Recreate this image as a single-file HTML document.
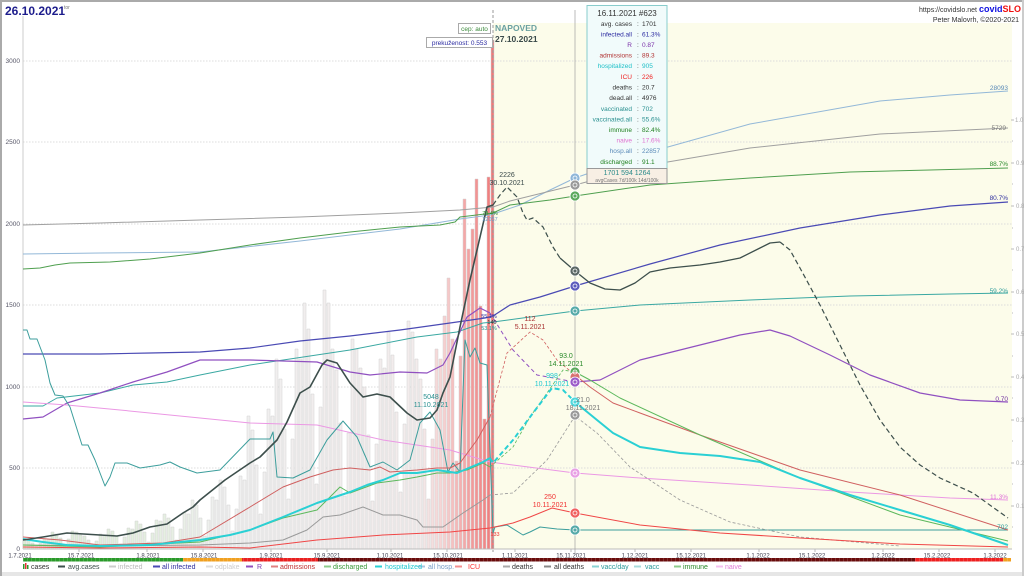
<!DOCTYPE html>
<html><head><meta charset="utf-8"><style>
html,body{margin:0;padding:0;background:#fff;}
svg{display:block;font-family:"Liberation Sans",sans-serif;}
</style></head><body>
<svg width="1024" height="576" viewBox="0 0 1024 576" xmlns="http://www.w3.org/2000/svg">
<defs>
<linearGradient id="bg" gradientUnits="userSpaceOnUse" x1="23" y1="0" x2="495" y2="0">
<stop offset="0" stop-color="#dcecd6"/><stop offset="0.3" stop-color="#e6efe2"/><stop offset="0.42" stop-color="#f0f0f0"/><stop offset="0.84" stop-color="#f3ecec"/><stop offset="0.89" stop-color="#f7d2d2"/><stop offset="0.94" stop-color="#f4a4a4"/><stop offset="1" stop-color="#f07474"/>
</linearGradient>
</defs>
<rect x="0" y="0" width="1024" height="576" fill="#fff"/>
<rect x="0" y="572" width="1024" height="4" fill="#e6e6e6"/>
<line x1="0" y1="1" x2="1024" y2="1" stroke="#aaa" stroke-width="2"/>
<line x1="1" y1="0" x2="1" y2="576" stroke="#aaa" stroke-width="2"/>
<line x1="1023" y1="0" x2="1023" y2="576" stroke="#ccc" stroke-width="2"/>
<!-- forecast bg -->
<rect x="493" y="23" width="519" height="526" fill="#fcfcea"/>
<!-- grid -->
<g stroke="#dcdcdc" stroke-width="1" stroke-dasharray="1.5 1.5">
<line x1="23" y1="61" x2="1012" y2="61"/><line x1="23" y1="142" x2="1012" y2="142"/><line x1="23" y1="224" x2="1012" y2="224"/><line x1="23" y1="305" x2="1012" y2="305"/><line x1="23" y1="387" x2="1012" y2="387"/><line x1="23" y1="468" x2="1012" y2="468"/>
</g>
<!-- left axis -->
<line x1="23" y1="16" x2="23" y2="549" stroke="#ccc"/>
<g font-size="6.5" fill="#556" text-anchor="end">
<text x="20" y="63">3000</text><text x="20" y="144">2500</text><text x="20" y="226">2000</text><text x="20" y="307">1500</text><text x="20" y="389">1000</text><text x="20" y="470">500</text><text x="20" y="551">0</text>
</g>
<!-- right axis -->
<g stroke="#bbb"><line x1="1011" y1="120" x2="1014" y2="120"/><line x1="1011" y1="163" x2="1014" y2="163"/><line x1="1011" y1="206" x2="1014" y2="206"/><line x1="1011" y1="249" x2="1014" y2="249"/><line x1="1011" y1="292" x2="1014" y2="292"/><line x1="1011" y1="334" x2="1014" y2="334"/><line x1="1011" y1="377" x2="1014" y2="377"/><line x1="1011" y1="420" x2="1014" y2="420"/><line x1="1011" y1="463" x2="1014" y2="463"/><line x1="1011" y1="506" x2="1014" y2="506"/>
<line x1="1012" y1="141" x2="1013" y2="141"/><line x1="1012" y1="184" x2="1013" y2="184"/><line x1="1012" y1="228" x2="1013" y2="228"/><line x1="1012" y1="270" x2="1013" y2="270"/><line x1="1012" y1="313" x2="1013" y2="313"/><line x1="1012" y1="356" x2="1013" y2="356"/><line x1="1012" y1="398" x2="1013" y2="398"/><line x1="1012" y1="441" x2="1013" y2="441"/><line x1="1012" y1="484" x2="1013" y2="484"/><line x1="1012" y1="527" x2="1013" y2="527"/></g>
<g font-size="6" fill="#aaa">
<text x="1015" y="122">1.0</text><text x="1016" y="165">0.9</text><text x="1016" y="208">0.8</text><text x="1016" y="251">0.7</text><text x="1016" y="294">0.6</text><text x="1016" y="336">0.5</text><text x="1016" y="379">0.4</text><text x="1016" y="422">0.3</text><text x="1016" y="465">0.2</text><text x="1016" y="508">0.1</text>
</g>
<!-- bars -->
<path fill="url(#bg)" stroke="#d2d2d2" stroke-width="0.5" d="M23 549v-9.5h3v9.5h1v-8.5h3v8.5h1v-6h3v6h1v-2.5h3v2.5h1v-5.5h3v5.5h1v-10h3v10h1v-9.5h3v9.5h1v-17h3v17h1v-15h3v15h1v-11h3v11h1v-4.5h3v4.5h1v-10h3v10h1v-18h3v18h1v-17h3v17h1v-14h3v14h1v-13h3v13h1v-9h3v9h1v-4h3v4h1v-8h3v8h1v-15h3v15h1v-14h3v14h1v-20h3v20h1v-18h3v18h1v-13h3v13h1v-5h3v5h1v-12h3v12h1v-21h3v21h1v-20h3v20h1v-28h3v28h1v-25h3v25h1v-17h3v17h1v-7h3v7h1v-16h3v16h1v-29h3v29h1v-28h3v28h1v-35h3v35h1v-31h3v31h1v-22h3v22h1v-9h3v9h1v-20h3v20h1v-37h3v37h1v-35h3v35h1v-49h3v49h1v-44h3v44h1v-31h3v31h1v-13h3v13h1v-29h3v29h1v-52h3v52h1v-49h3v49h1v-69h3v69h1v-62h3v62h1v-44h3v44h1v-18h3v18h1v-40h3v40h1v-73h3v73h1v-69h3v69h1v-133h3v133h1v-119h3v119h1v-84h3v84h1v-35h3v35h1v-77h3v77h1v-140h3v140h1v-133h3v133h1v-190h3v190h1v-170h3v170h1v-120h3v120h1v-50h3v50h1v-110h3v110h1v-200h3v200h1v-190h3v190h1v-246h3v246h1v-220h3v220h1v-155h3v155h1v-65h3v65h1v-142h3v142h1v-259h3v259h1v-246h3v246h1v-200h3v200h1v-179h3v179h1v-126h3v126h1v-53h3v53h1v-116h3v116h1v-210h3v210h1v-200h3v200h1v-181h3v181h1v-162h3v162h1v-114h3v114h1v-48h3v48h1v-105h3v105h1v-190h3v190h1v-181h3v181h1v-217h3v217h1v-194h3v194h1v-137h3v137h1v-57h3v57h1v-125h3v125h1v-228h3v228h1v-217h3v217h1v-190h3v190h1v-170h3v170h1v-120h3v120h1v-50h3v50h1v-110h3v110h1v-200h3v200h1v-190h3v190h1v-233h3v233h1v-271h3v271h1v-210h3v210h1v-88h3v88h1v-193h3v193h1v-350h3v350h1v-300h3v300h1v-320h3v320h1v-370h3v370h1v-243h3v243h1v-130h3v130h1v-372h3v372h1v-509h3v509h1z"/>
<!-- x axis -->
<line x1="23" y1="549" x2="1012" y2="549" stroke="#bbb"/>
<line x1="493" y1="10" x2="493" y2="552" stroke="#999" stroke-dasharray="3 2"/>
<line x1="575" y1="10" x2="575" y2="555" stroke="#aaa" stroke-width="0.8"/>
<!-- series -->
<g fill="none" stroke-linejoin="round">
<polyline stroke="#93b8d8" stroke-width="1" points="23,254 100,253 200,252 300,241 400,229 460,219 490,215 520,205 550,190 575,178 650,152 750,124 880,101 950,95 1008,91"/>
<polyline stroke="#a0a0a0" stroke-width="1" points="23,225 100,223 200,220 300,217 400,213 460,210 493,207 510,201 575,185 650,165 750,148 880,134 1008,128"/>
<polyline stroke="#4f9f4f" stroke-width="1" points="23,269 40,268 55,265 70,263 110,262 150,259 200,253 250,245 300,238 350,232 400,227 440,225 455,222 460,217 493,213 510,205 550,200 575,196 650,185 750,178 850,172 930,170 1008,168"/>
<polyline stroke="#4a4ab4" stroke-width="1.2" points="23,354 100,354 150,353 200,352 250,348 300,341 350,336 400,330 450,323 485,318 493,316 510,305 540,297 575,286 650,264 720,245 800,228 880,215 950,206 1008,202"/>
<polyline stroke="#3aa8a2" stroke-width="1" points="23,406 43,406 57,398 100,393 133,385 167,382 200,375 250,365 350,350 417,337 457,332 483,323 493,322 530,317 575,311 640,305 750,300 850,296 950,294 1008,293"/>
<polyline stroke="#9050c0" stroke-width="1.2" points="23,419 43,417 67,403 100,393 133,382 167,372 200,360 250,360 317,362 350,372 370,375 400,372 427,373 443,365 450,353 467,317 480,308 490,313"/>
<polyline stroke="#9050c0" stroke-width="1" stroke-dasharray="4 3" points="490,313 513,350 537,375 575,382"/>
<polyline stroke="#9050c0" stroke-width="1.2" points="575,382 600,380 640,360 700,345 740,335 770,330 790,336 830,355 870,375 920,393 960,400 1008,402"/>
<polyline stroke="#eb98e4" stroke-width="1" points="23,402 67,405 120,410 200,418 250,423 317,425 383,440 450,450 483,460 490,462 575,473 640,478 750,485 850,492 950,498 1008,500"/>
<polyline stroke="#3c9e9c" stroke-width="1" points="23,330 27,330 30,339 37,339 45,360 50,383 55,395 63,396 70,407 82,445 88,445 95,460 105,486 110,477 115,463 127,463 140,468 160,465 170,462 180,467 197,473 220,470 250,439 270,439 273,432 277,477 293,478 310,470 327,440 343,421 357,437 370,467 383,462 397,470 410,460 420,423 430,412 440,430 448,472 453,463 460,472 465,340 470,357 475,348 480,363 487,365 490,450 493,533 495,527 507,525 523,535 530,532 540,527 557,529 575,530 700,530 850,530 1008,530"/>
<polyline stroke="#9a9a9a" stroke-width="1" points="23,545 100,546 200,545 250,543 283,540 307,530 323,517 340,515 363,507 383,515 400,515 417,520 423,527 443,527 463,513 483,500 490,495"/>
<polyline stroke="#9a9a9a" stroke-width="0.8" stroke-dasharray="3 2" points="490,495 513,493 547,460 575,416 597,433 630,467 680,500 730,522 800,537 900,546"/>
<polyline stroke="#d06060" stroke-width="1" points="23,537 60,540 100,545 163,543 200,537 250,507 283,487 310,477 333,470 350,468 370,470 380,467 390,472 417,470 437,468 450,468 460,463 477,440 490,417"/>
<polyline stroke="#d06060" stroke-width="0.8" stroke-dasharray="3 2" points="490,417 507,353 530,332 543,340 557,360 575,375"/>
<polyline stroke="#d06060" stroke-width="1" points="575,375 590,387 613,403 640,413 700,435 800,470 900,495 1008,530"/>
<polyline stroke="#5cb85c" stroke-width="1" points="23,545 100,547 200,542 250,530 283,518 317,510 340,487 350,493 377,483 400,480 417,477 437,473 450,473 467,470 483,463 490,467"/>
<polyline stroke="#5cb85c" stroke-width="0.8" stroke-dasharray="3 2" points="490,467 513,447 530,417 547,393 563,370 575,372"/>
<polyline stroke="#5cb85c" stroke-width="1" points="575,372 590,380 620,398 700,435 800,478 900,515 1008,541"/>
<polyline stroke="#f04646" stroke-width="1" points="23,547 100,548 200,547 250,548 317,540 383,535 450,532 490,528 513,523 530,517 552,508 575,513 640,525 720,533 800,538 900,544 1008,547"/>
<polyline stroke="#2ad0d4" stroke-width="2" points="23,539 43,542 67,545 100,546 150,545 200,540 230,535 250,530 283,517 317,503 350,492 367,485 383,480 400,473 417,473 437,470 457,473 483,462 490,458"/>
<polyline stroke="#2ad0d4" stroke-width="2" stroke-dasharray="5 3" points="490,458 493,463 513,440 533,413 552,388 563,390 575,402"/>
<polyline stroke="#2ad0d4" stroke-width="2" points="575,402 597,420 613,433 640,447 680,453 720,456 760,462 800,478 850,495 900,510 950,525 1008,545"/>
<polyline stroke="#3d4f4c" stroke-width="1.6" points="23,540 43,537 67,533 100,535 117,536 133,533 150,527 167,524 183,513 193,507 200,500 225,480 250,463 260,457 270,447 277,440 287,422 300,393 310,387 322,365 327,360 337,363 350,383 363,397 377,394 390,397 407,413 417,420 430,418 437,410 443,393 450,377 460,327 470,280 477,250 487,207 493,205"/>
<polyline stroke="#3d4f4c" stroke-width="1.2" stroke-dasharray="5 3" points="493,205 500,195 507,187 517,197 523,213 527,220 533,218 543,227 553,247 560,258"/>
<polyline stroke="#3d4f4c" stroke-width="1.3" points="560,258 575,271 590,283 605,289 620,290 635,283 650,272 670,268 700,265 720,262 740,258 760,248 770,243 780,242"/>
<polyline stroke="#3d4f4c" stroke-width="1.2" stroke-dasharray="5 3" points="780,242 790,250 800,268 820,305 840,345 860,385 880,420 900,447 920,465 940,478 973,493 1008,518"/>
</g>
<!-- circles at 575 -->
<g stroke="#fff" stroke-width="0.8">
<circle cx="575" cy="178" r="5" fill="#8fb6d8"/><circle cx="575" cy="185" r="5" fill="#999"/><circle cx="575" cy="196" r="5" fill="#5aa85a"/><circle cx="575" cy="271" r="5" fill="#5a6664"/><circle cx="575" cy="286" r="5" fill="#5a5abc"/><circle cx="575" cy="311" r="5" fill="#55aaa8"/><circle cx="575" cy="372" r="5" fill="#5aa85a"/><circle cx="575" cy="377" r="5" fill="#d87070"/><circle cx="575" cy="382" r="5" fill="#9a5ac8"/><circle cx="575" cy="402" r="5" fill="#50d8dc"/><circle cx="575" cy="415" r="5" fill="#999"/><circle cx="575" cy="473" r="5" fill="#e8a0e4"/><circle cx="575" cy="513" r="5" fill="#f06060"/><circle cx="575" cy="530" r="5" fill="#55aaa8"/>
</g>
<g fill="none" stroke="#fff" stroke-width="0.8">
<circle cx="575" cy="178" r="2"/><circle cx="575" cy="185" r="2"/><circle cx="575" cy="196" r="2"/><circle cx="575" cy="271" r="2"/><circle cx="575" cy="286" r="2"/><circle cx="575" cy="311" r="2"/><circle cx="575" cy="372" r="2"/><circle cx="575" cy="382" r="2"/><circle cx="575" cy="402" r="2"/><circle cx="575" cy="415" r="2"/><circle cx="575" cy="473" r="2"/><circle cx="575" cy="513" r="2"/><circle cx="575" cy="530" r="2"/>
</g>
<!-- annotations -->
<g font-size="7" text-anchor="middle">
<text x="507" y="177" fill="#3a4a4a">2226</text><text x="507" y="185" fill="#3a4a4a">30.10.2021</text>
<text x="530" y="321" fill="#a83030">112</text><text x="530" y="329" fill="#a83030">5.11.2021</text>
<text x="566" y="358" fill="#2a8a2a">93.0</text><text x="566" y="366" fill="#2a8a2a">14.11.2021</text>
<text x="552" y="378" fill="#20c8d0">998</text><text x="552" y="386" fill="#20c8d0">10.11.2021</text>
<text x="583" y="402" fill="#777">21.0</text><text x="583" y="410" fill="#777">18.11.2021</text>
<text x="550" y="499" fill="#f03030">250</text><text x="550" y="507" fill="#f03030">10.11.2021</text>
<text x="431" y="399" fill="#2a9090">5048</text><text x="431" y="407" fill="#2a9090">11.10.2021</text>
</g>
<g font-size="5.5" text-anchor="middle">
<text x="489" y="318" fill="#3030a0">55.1%</text><text x="492" y="324" fill="#333">140</text><text x="489" y="330" fill="#2a9090">53.1%</text>
<text x="490" y="215" fill="#2a8a2a">78.4%</text><text x="490" y="221" fill="#6a9ac8">22057</text>
<text x="495" y="536" fill="#f03030">133</text>
</g>
<!-- right labels -->
<g font-size="6.5" text-anchor="end">
<text x="1008" y="90" fill="#5a8ab8">28093</text>
<text x="1006" y="130" fill="#777">5729</text>
<text x="1008" y="166" fill="#2a8a2a">88.7%</text>
<text x="1008" y="200" fill="#3030a0">80.7%</text>
<text x="1008" y="293" fill="#2a9a9a">59.2%</text>
<text x="1008" y="401" fill="#7030a0">0.70</text>
<text x="1008" y="499" fill="#e070d8">11.3%</text>
<text x="1008" y="529" fill="#2a9a9a">702</text>
</g>
<!-- forecast labels -->
<rect x="458.5" y="23.5" width="32" height="10" fill="#fff" stroke="#aaa"/>
<text x="474.5" y="31" font-size="6.5" fill="#3a8a3a" text-anchor="middle">cep: auto</text>
<rect x="426.5" y="37.5" width="66" height="10" fill="#fff" stroke="#aaa"/>
<text x="459.5" y="45" font-size="6.5" fill="#2a2aa0" text-anchor="middle">prekuženost: 0.553</text>
<text x="495" y="31" font-size="8.5" font-weight="bold" fill="#6aa0a0">NAPOVED</text>
<text x="495" y="42" font-size="8.5" font-weight="bold" fill="#3a4a4a">27.10.2021</text>
<!-- tooltip -->
<rect x="587" y="5.5" width="80" height="163" fill="#f1fbfb" stroke="#88cccc"/>
<rect x="587" y="168.5" width="80" height="15" fill="#f8efe4" stroke="#999"/>
<text x="627" y="16" font-size="8" fill="#333" text-anchor="middle">16.11.2021 #623</text>
<g font-size="6.5">
<g text-anchor="end">
<text x="632" y="26" fill="#333">avg. cases</text>
<text x="632" y="36.5" fill="#2a2aa0">infected.all</text>
<text x="632" y="47" fill="#7a30a8">R</text>
<text x="632" y="57.5" fill="#b03030">admissions</text>
<text x="632" y="68" fill="#20c0c8">hospitalized</text>
<text x="632" y="79" fill="#f02020">ICU</text>
<text x="632" y="89.5" fill="#333">deaths</text>
<text x="632" y="100" fill="#333">dead.all</text>
<text x="632" y="111" fill="#2a9090">vaccinated</text>
<text x="632" y="121.5" fill="#2a9090">vaccinated.all</text>
<text x="632" y="132" fill="#208020">immune</text>
<text x="632" y="142.5" fill="#e070d0">naive</text>
<text x="632" y="153" fill="#5a8ab8">hosp.all</text>
<text x="632" y="164" fill="#208020">discharged</text>
</g>
<g fill="#333"><text x="637" y="26">:</text><text x="637" y="36.5">:</text><text x="637" y="47">:</text><text x="637" y="57.5">:</text><text x="637" y="68">:</text><text x="637" y="79">:</text><text x="637" y="89.5">:</text><text x="637" y="100">:</text><text x="637" y="111">:</text><text x="637" y="121.5">:</text><text x="637" y="132">:</text><text x="637" y="142.5">:</text><text x="637" y="153">:</text><text x="637" y="164">:</text></g>
<text x="642" y="26" fill="#333">1701</text>
<text x="642" y="36.5" fill="#2a2aa0">61.3%</text>
<text x="642" y="47" fill="#7a30a8">0.87</text>
<text x="642" y="57.5" fill="#b03030">89.3</text>
<text x="642" y="68" fill="#20c0c8">905</text>
<text x="642" y="79" fill="#f02020">226</text>
<text x="642" y="89.5" fill="#333">20.7</text>
<text x="642" y="100" fill="#333">4976</text>
<text x="642" y="111" fill="#2a9090">702</text>
<text x="642" y="121.5" fill="#2a9090">55.6%</text>
<text x="642" y="132" fill="#208020">82.4%</text>
<text x="642" y="142.5" fill="#e070d0">17.6%</text>
<text x="642" y="153" fill="#5a8ab8">22857</text>
<text x="642" y="164" fill="#208020">91.1</text>
</g>
<text x="627" y="175" font-size="7" fill="#2a8a8a" text-anchor="middle">1701  594  1264</text>
<text x="627" y="182" font-size="5" fill="#777" text-anchor="middle">avgCases 7d/100k 14d/100k</text>
<!-- header -->
<text x="5" y="15" font-size="12" font-weight="bold" fill="#1c1c8c">26.10.2021</text>
<text x="64" y="9" font-size="5" fill="#777">tor</text>
<text x="977" y="12" font-size="7" fill="#333" text-anchor="end">https://covidslo.net</text>
<text x="979" y="12" font-size="9" font-weight="bold" fill="#1010e0">covid<tspan fill="#f01010">SLO</tspan></text>
<text x="1019" y="22" font-size="7" fill="#333" text-anchor="end">Peter Malovrh, ©2020-2021</text>
<!-- x ticks -->
<g stroke="#bbb"><line x1="79" y1="549" x2="79" y2="552"/><line x1="147" y1="549" x2="147" y2="552"/><line x1="203" y1="549" x2="203" y2="552"/><line x1="271" y1="549" x2="271" y2="552"/><line x1="327" y1="549" x2="327" y2="552"/><line x1="391" y1="549" x2="391" y2="552"/><line x1="447" y1="549" x2="447" y2="552"/><line x1="515" y1="549" x2="515" y2="552"/><line x1="571" y1="549" x2="571" y2="552"/><line x1="635" y1="549" x2="635" y2="552"/><line x1="691" y1="549" x2="691" y2="552"/><line x1="759" y1="549" x2="759" y2="552"/><line x1="815" y1="549" x2="815" y2="552"/><line x1="883" y1="549" x2="883" y2="552"/><line x1="939" y1="549" x2="939" y2="552"/><line x1="995" y1="549" x2="995" y2="552"/></g>
<g font-size="6" fill="#445" text-anchor="middle">
<text x="20" y="557.5">1.7.2021</text><text x="81" y="557.5">15.7.2021</text><text x="148" y="557.5">1.8.2021</text><text x="204" y="557.5">15.8.2021</text><text x="271" y="557.5">1.9.2021</text><text x="327" y="557.5">15.9.2021</text><text x="390" y="557.5">1.10.2021</text><text x="448" y="557.5">15.10.2021</text><text x="515" y="557.5">1.11.2021</text><text x="571" y="557.5">15.11.2021</text><text x="635" y="557.5">1.12.2021</text><text x="691" y="557.5">15.12.2021</text><text x="758" y="557.5">1.1.2022</text><text x="812" y="557.5">15.1.2022</text><text x="883" y="557.5">1.2.2022</text><text x="937" y="557.5">15.2.2022</text><text x="995" y="557.5">1.3.2022</text>
</g>
<!-- strip -->
<rect x="23" y="558" width="160" height="3.5" fill="#2a9a2a"/>
<rect x="183" y="558" width="59" height="3.5" fill="#f0a020"/>
<rect x="242" y="558" width="76" height="3.5" fill="#e82020"/>
<rect x="318" y="558" width="597" height="3.5" fill="#6a0c0c"/>
<rect x="915" y="558" width="88" height="3.5" fill="#ee2020"/>
<rect x="1003" y="558" width="8" height="3.5" fill="#f0a020"/>
<line x1="23" y1="559.8" x2="1011" y2="559.8" stroke="#fff" stroke-opacity="0.25" stroke-width="3.5" stroke-dasharray="0.6 3.4"/>
<!-- legend -->
<rect x="23" y="564" width="1.5" height="5" fill="#2a9a2a"/><rect x="25" y="563" width="1.5" height="6" fill="#e83030"/><rect x="27" y="565" width="1.5" height="4" fill="#2a9a2a"/>
<g stroke-width="2">
<line x1="58" y1="566.5" x2="65" y2="566.5" stroke="#3d4f4c"/>
<line x1="109" y1="566.5" x2="116" y2="566.5" stroke="#ccc"/>
<line x1="153" y1="566.5" x2="160" y2="566.5" stroke="#4a4ab4"/>
<line x1="206" y1="566.5" x2="213" y2="566.5" stroke="#ddd"/>
<line x1="246" y1="566.5" x2="253" y2="566.5" stroke="#9050c0"/>
<line x1="271" y1="566.5" x2="278" y2="566.5" stroke="#e08080"/>
<line x1="324" y1="566.5" x2="331" y2="566.5" stroke="#8ccc8c"/>
<line x1="375" y1="566.5" x2="382" y2="566.5" stroke="#2ad0d4"/>
<line x1="418" y1="566.5" x2="425" y2="566.5" stroke="#a8c4e0"/>
<line x1="455" y1="566.5" x2="462" y2="566.5" stroke="#f49090"/>
<line x1="503" y1="566.5" x2="510" y2="566.5" stroke="#aaa"/>
<line x1="544" y1="566.5" x2="551" y2="566.5" stroke="#888"/>
<line x1="592" y1="566.5" x2="599" y2="566.5" stroke="#8ad4d4"/>
<line x1="634" y1="566.5" x2="641" y2="566.5" stroke="#a8dcdc"/>
<line x1="674" y1="566.5" x2="681" y2="566.5" stroke="#8ccc8c"/>
<line x1="716" y1="566.5" x2="723" y2="566.5" stroke="#f4c0f0"/>
</g>
<g font-size="7">
<text x="31" y="569" fill="#333">cases</text>
<text x="68" y="569" fill="#3d4f4c">avg.cases</text>
<text x="118" y="569" fill="#bbb">infected</text>
<text x="162" y="569" fill="#3030a0">all infected</text>
<text x="215" y="569" fill="#ccc">odplake</text>
<text x="257" y="569" fill="#8040b0">R</text>
<text x="280" y="569" fill="#c03030">admissions</text>
<text x="333" y="569" fill="#3a9a3a">discharged</text>
<text x="385" y="569" fill="#20c8d0">hospitalized</text>
<text x="428" y="569" fill="#7aa0c8">all hosp.</text>
<text x="468" y="569" fill="#ff3030">ICU</text>
<text x="512" y="569" fill="#333">deaths</text>
<text x="554" y="569" fill="#333">all deaths</text>
<text x="601" y="569" fill="#2a9a9a">vacc/day</text>
<text x="645" y="569" fill="#2a9a9a">vacc</text>
<text x="683" y="569" fill="#2a8a2a">immune</text>
<text x="725" y="569" fill="#e080d8">naive</text>
</g>
</svg>
</body></html>
